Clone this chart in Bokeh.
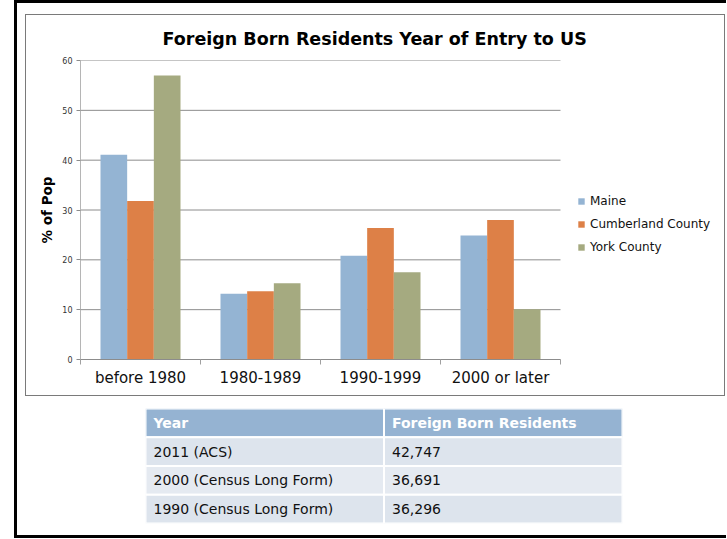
from bokeh.plotting import figure
from bokeh.models import (Range1d, LinearAxis, FixedTicker, Title,
                          Legend, LegendItem, ColumnDataSource)
from bokeh.transform import dodge
from bokeh.layouts import column
from bokeh.embed import file_html
from bokeh.resources import INLINE
from bokeh.core.properties import value

# ---------------- data ----------------
categories = ["before 1980", "1980-1989", "1990-1999", "2000 or later"]
series_names = ["Maine", "Cumberland County", "York County"]
maine = [41.1, 13.2, 20.8, 24.9]
cumberland = [31.8, 13.7, 26.4, 28.0]
york = [57.0, 15.3, 17.5, 10.1]
y_ticks = [0, 10, 20, 30, 40, 50, 60]

table_header = ["Year", "Foreign Born Residents"]
table_years = ["2011 (ACS)", "2000 (Census Long Form)", "1990 (Census Long Form)"]
table_counts = ["42,747", "36,691", "36,296"]

colors = ["#94B4D3", "#DD8047", "#A5AA80"]
FONT = "DejaVu Sans"

# ---------------- chart ----------------
n_cat = len(categories)
centers = [i + 0.5 for i in range(n_cat)]
src = ColumnDataSource(dict(xc=centers, cat=categories, maine=maine, cumberland=cumberland, york=york))

CW, BL = 698, 54                     # canvas width, left border
plot_px, frame_px = 480, CW - BL     # width of the bar area inside the wider frame
p = figure(width=CW, height=380, x_range=Range1d(0, n_cat * frame_px / plot_px),
           y_range=Range1d(0, 60), output_backend="svg", toolbar_location=None,
           x_axis_location=None, y_axis_location=None,
           min_border_left=BL, min_border_right=0, min_border_top=44, min_border_bottom=36)
p.frame_align = False
p.outline_line_color = None
p.background_fill_color = "white"
p.border_fill_color = "white"
for g in p.grid:
    g.visible = False

# horizontal grid lines limited to the bar area
p.segment(x0=[0] * len(y_ticks), x1=[n_cat] * len(y_ticks), y0=y_ticks, y1=y_ticks,
          line_color="#8c8c8c", line_width=1, level="underlay")

bw = 2.0 / 9.0
offsets = [-bw, 0.0, bw]
fields = ["maine", "cumberland", "york"]
renderers = []
for f, off, c in zip(fields, offsets, colors):
    r = p.vbar(x=dodge("xc", off), top=f, width=bw, source=src,
               fill_color=c, line_color=None)
    renderers.append(r)

yaxis = LinearAxis(ticker=FixedTicker(ticks=y_ticks), axis_label="% of Pop",
                   axis_label_text_font=FONT, axis_label_text_font_style="bold",
                   axis_label_text_font_size="13.5px", axis_label_text_color="#000000",
                   axis_label_standoff=4,
                   major_label_text_font=FONT, major_label_text_font_size="8px",
                   major_label_text_color="#333333", major_label_standoff=4,
                   major_tick_in=0, major_tick_out=4, major_tick_line_color="#8c8c8c",
                   minor_tick_line_color=None, axis_line_color="#b5b5b5")
p.add_layout(yaxis, "left")

edges = list(range(n_cat + 1))
edge_axis = LinearAxis(ticker=FixedTicker(ticks=edges), bounds=(0, n_cat),
                       major_tick_in=0, major_tick_out=5, major_tick_line_color="#a0a0a0",
                       minor_tick_line_color=None, axis_line_color="#8c8c8c",
                       major_label_text_font_size="0px", major_label_standoff=0,
                       major_label_overrides={e: "" for e in edges})
p.add_layout(edge_axis, "below")
cat_axis = LinearAxis(ticker=FixedTicker(ticks=centers),
                      major_label_overrides={c: name for c, name in zip(centers, categories)},
                      major_tick_line_color=None, major_tick_out=0, major_tick_in=0,
                      minor_tick_line_color=None, minor_tick_out=0,
                      axis_line_color=None, major_label_text_font=FONT,
                      major_label_text_font_size="15px", major_label_text_color="#111111",
                      major_label_standoff=4)
p.add_layout(cat_axis, "below")

legend = Legend(items=[LegendItem(label=n, renderers=[r]) for n, r in zip(series_names, renderers)],
                location=(497, 102), glyph_width=8, glyph_height=8, label_standoff=5,
                label_height=20, spacing=3, padding=0, margin=0,
                label_text_font=FONT, label_text_font_size="12px", label_text_color="#111111",
                border_line_color=None, background_fill_alpha=0)
p.add_layout(legend, "center")

p.add_layout(Title(text="Foreign Born Residents Year of Entry to US", align="left", offset=82,
                   standoff=23, text_font=FONT, text_font_style="bold", text_font_size="17.5px",
                   text_color="#000000"), "above")

chart_box = column(p, spacing=0,
                   styles={"border": "1.5px solid #7a7a7a", "margin-left": "8px", "margin-top": "11px"})

# ---------------- table ----------------
n_rows = len(table_years) + 1
col_texts = [[table_header[0]] + table_years, [table_header[1]] + table_counts]
cells = dict(left=[], right=[], bottom=[], top=[], fill=[], text=[], tx=[], ty=[], tcolor=[], tstyle=[])
for ci, texts in enumerate(col_texts):
    for ri, t in enumerate(texts):
        cells["left"].append(ci)
        cells["right"].append(ci + 1)
        cells["bottom"].append(n_rows - ri - 1)
        cells["top"].append(n_rows - ri)
        cells["fill"].append("#95B3D2" if ri == 0 else ("#DDE4ED" if ri % 2 == 1 else "#E5EAF1"))
        cells["text"].append(t)
        cells["tx"].append(ci)
        cells["ty"].append(n_rows - ri - 0.5)
        cells["tcolor"].append("#FFFFFF" if ri == 0 else "#111111")
        cells["tstyle"].append("bold" if ri == 0 else "normal")
tsrc = ColumnDataSource(cells)

t = figure(width=709, height=139, x_range=Range1d(0, 2), y_range=Range1d(0, n_rows),
           output_backend="svg", toolbar_location=None, x_axis_location=None, y_axis_location=None,
           min_border_left=128, min_border_right=104, min_border_top=12, min_border_bottom=12)
t.frame_align = False
t.outline_line_color = None
for g in t.grid:
    g.visible = False
t.quad(left="left", right="right", bottom="bottom", top="top", fill_color="fill",
       line_color="white", line_width=2, source=tsrc)
t.text(x="tx", y="ty", text="text", x_offset=8, text_font=value(FONT), text_font_size="14px",
       text_color="tcolor", text_font_style="tstyle", text_baseline="middle", text_align="left",
       source=tsrc)

root = column(chart_box, t, spacing=0,
              styles={"border-top": "3px solid black", "border-left": "3px solid black",
                      "border-bottom": "3px solid black", "margin-left": "14px"})
open("out.html", "w").write(file_html(root, INLINE))
